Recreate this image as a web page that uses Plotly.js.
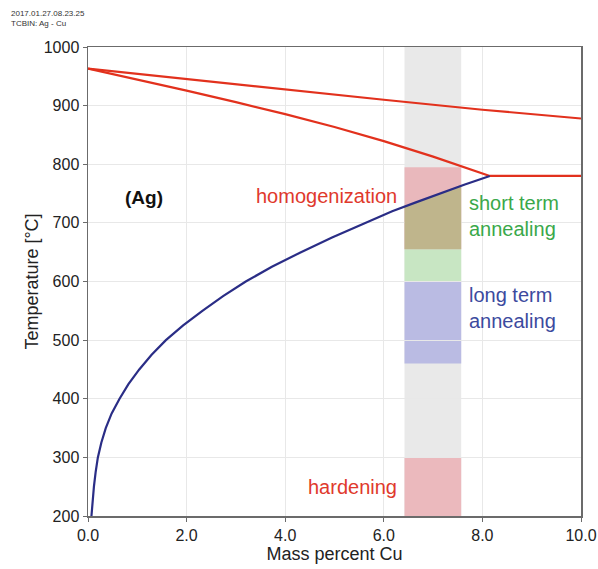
<!DOCTYPE html>
<html>
<head>
<meta charset="utf-8">
<script src="https://cdn.plot.ly/plotly-3.0.1.min.js"></script>
<style>
html,body{margin:0;padding:0;background:#fff;}
#chart{width:598px;height:569px;}
</style>
</head>
<body>
<div id="chart"></div>
<script>
// ---- Data ----
// Liquidus (upper red line)
const liquidusX = [0.0, 2.0, 4.0, 6.0, 8.0, 10.0];
const liquidusT = [963, 945, 927, 910, 893, 878];
// Solidus (lower red line)
const solidusX = [0.0, 1.0, 2.0, 3.0, 4.0, 5.0, 6.0, 7.0, 7.6, 8.15];
const solidusT = [963, 944.5, 925.5, 906, 885.5, 863.5, 839.5, 813, 796, 780];
// Eutectic horizontal
const eutecticX = [8.15, 10.0];
const eutecticT = [780, 780];
// Solvus (blue line)
const solvusX = [0.07, 0.09, 0.12, 0.155, 0.2, 0.27, 0.36, 0.48, 0.64, 0.82, 1.04, 1.29, 1.58, 1.93, 2.32, 2.74, 3.2, 3.73, 4.32, 4.95, 5.63, 6.17, 6.65, 7.12, 7.63, 8.15];
const solvusT = [200, 225, 250, 275, 300, 325, 350, 375, 400, 425, 450, 475, 500, 525, 550, 575, 600, 625, 650, 675, 700, 720, 735, 750, 765, 780];

// Heat-treatment window (composition band)
const bandX = [6.42, 7.57];
const bandT = [200, 1000];
// Temperature ranges
const homogenizationT = [655, 795];
const shortTermT = [600, 655];
const longTermT = [460, 600];
const hardeningT = [200, 300];

// Labels
const xTickVals = [0, 2, 4, 6, 8, 10];
const xTickText = ["0.0", "2.0", "4.0", "6.0", "8.0", "10.0"];
const yTickVals = [200, 300, 400, 500, 600, 700, 800, 900, 1000];

// ---- helpers ----
function interp(xs, ys, x) {
  for (let i = 0; i < xs.length - 1; i++) {
    if (x >= xs[i] && x <= xs[i + 1]) {
      const t = (x - xs[i]) / (xs[i + 1] - xs[i]);
      return ys[i] + t * (ys[i + 1] - ys[i]);
    }
  }
  return ys[ys.length - 1];
}

// olive region: part of homogenization window below solvus
const oliveX = [bandX[0]];
const oliveY = [interp(solvusX, solvusT, bandX[0])];
solvusX.forEach((x, i) => { if (x > bandX[0] && x < bandX[1]) { oliveX.push(x); oliveY.push(solvusT[i]); } });
oliveX.push(bandX[1], bandX[1], bandX[0]);
oliveY.push(interp(solvusX, solvusT, bandX[1]), homogenizationT[0], homogenizationT[0]);

const RED = '#e2311d';
const BLUE = '#2a2d86';

const traces = [
  { x: oliveX, y: oliveY, mode: 'lines', fill: 'toself', fillcolor: '#bfb58c',
    line: { width: 0, color: 'rgba(0,0,0,0)' }, hoverinfo: 'skip', showlegend: false },
  { x: liquidusX, y: liquidusT, mode: 'lines', line: { color: RED, width: 2.2 }, showlegend: false },
  { x: solidusX, y: solidusT, mode: 'lines', line: { color: RED, width: 2.2 }, showlegend: false },
  { x: eutecticX, y: eutecticT, mode: 'lines', line: { color: RED, width: 2.2 }, showlegend: false },
  { x: solvusX, y: solvusT, mode: 'lines', line: { color: BLUE, width: 2.2 }, showlegend: false }
];

function rect(y0, y1, color) {
  return { type: 'rect', xref: 'x', yref: 'y', x0: bandX[0], x1: bandX[1], y0: y0, y1: y1,
           fillcolor: color, line: { width: 0 }, layer: 'below' };
}

const FONT = 'Liberation Sans, Arial, Helvetica, sans-serif';

const layout = {
  width: 598, height: 569,
  margin: { l: 88, r: 17, t: 47, b: 53 },
  paper_bgcolor: '#fff', plot_bgcolor: '#fff',
  font: { family: FONT, color: '#222', size: 16 },
  xaxis: {
    range: [0, 10], tickvals: xTickVals, ticktext: xTickText,
    showgrid: true, gridcolor: '#e8e8e8', gridwidth: 1,
    showline: true, linecolor: '#6b6b6b', linewidth: 1.5, mirror: true,
    ticks: 'outside', ticklen: 4, tickcolor: '#6b6b6b',
    zeroline: false, tickfont: { size: 16, family: FONT, color: '#222' },
    title: { text: 'Mass percent Cu', font: { size: 18, family: FONT, color: '#222' }, standoff: 3 }
  },
  yaxis: {
    range: [200, 1000], tickvals: yTickVals,
    showgrid: true, gridcolor: '#e8e8e8', gridwidth: 1,
    showline: true, linecolor: '#6b6b6b', linewidth: 1.5, mirror: true,
    ticks: 'outside', ticklen: 4, tickcolor: '#6b6b6b',
    zeroline: false, tickfont: { size: 16, family: FONT, color: '#222' },
    title: { text: 'Temperature [°C]', font: { size: 18, family: FONT, color: '#222' }, standoff: 0 }
  },
  shapes: [
    rect(bandT[0], bandT[1], '#e9e9e9'),
    rect(homogenizationT[0], homogenizationT[1], '#e9b8bc'),
    rect(shortTermT[0], shortTermT[1], '#c8e6c3'),
    rect(longTermT[0], longTermT[1], '#babbe3'),
    rect(hardeningT[0], hardeningT[1], '#ebb9bd')
  ],
  annotations: [
    { xref: 'paper', yref: 'paper', x: -0.16, y: 1.0, yshift: 40, xanchor: 'left', yanchor: 'top',
      text: '2017.01.27.08.23.25<br>TCBIN: Ag - Cu', showarrow: false, align: 'left',
      font: { size: 8, family: FONT, color: '#333' } },
    { x: 1.13, y: 744, text: '<b>(Ag)</b>', showarrow: false, xanchor: 'center', yanchor: 'middle',
      font: { size: 19, family: FONT, color: '#111' } },
    { x: 6.3, y: 745, text: 'homogenization', showarrow: false, xanchor: 'right', yanchor: 'middle',
      font: { size: 20, family: FONT, color: '#e0392c' } },
    { x: 7.68, y: 712, text: 'short term<br>annealing', showarrow: false, xanchor: 'left', yanchor: 'middle', align: 'left',
      font: { size: 20, family: FONT, color: '#3aa84a' } },
    { x: 7.68, y: 555, text: 'long term<br>annealing', showarrow: false, xanchor: 'left', yanchor: 'middle', align: 'left',
      font: { size: 20, family: FONT, color: '#3c4a9e' } },
    { x: 6.3, y: 250, text: 'hardening', showarrow: false, xanchor: 'right', yanchor: 'middle',
      font: { size: 20, family: FONT, color: '#e0392c' } }
  ]
};

Plotly.newPlot('chart', traces, layout, { displayModeBar: false, staticPlot: true });
</script>
</body>
</html>
